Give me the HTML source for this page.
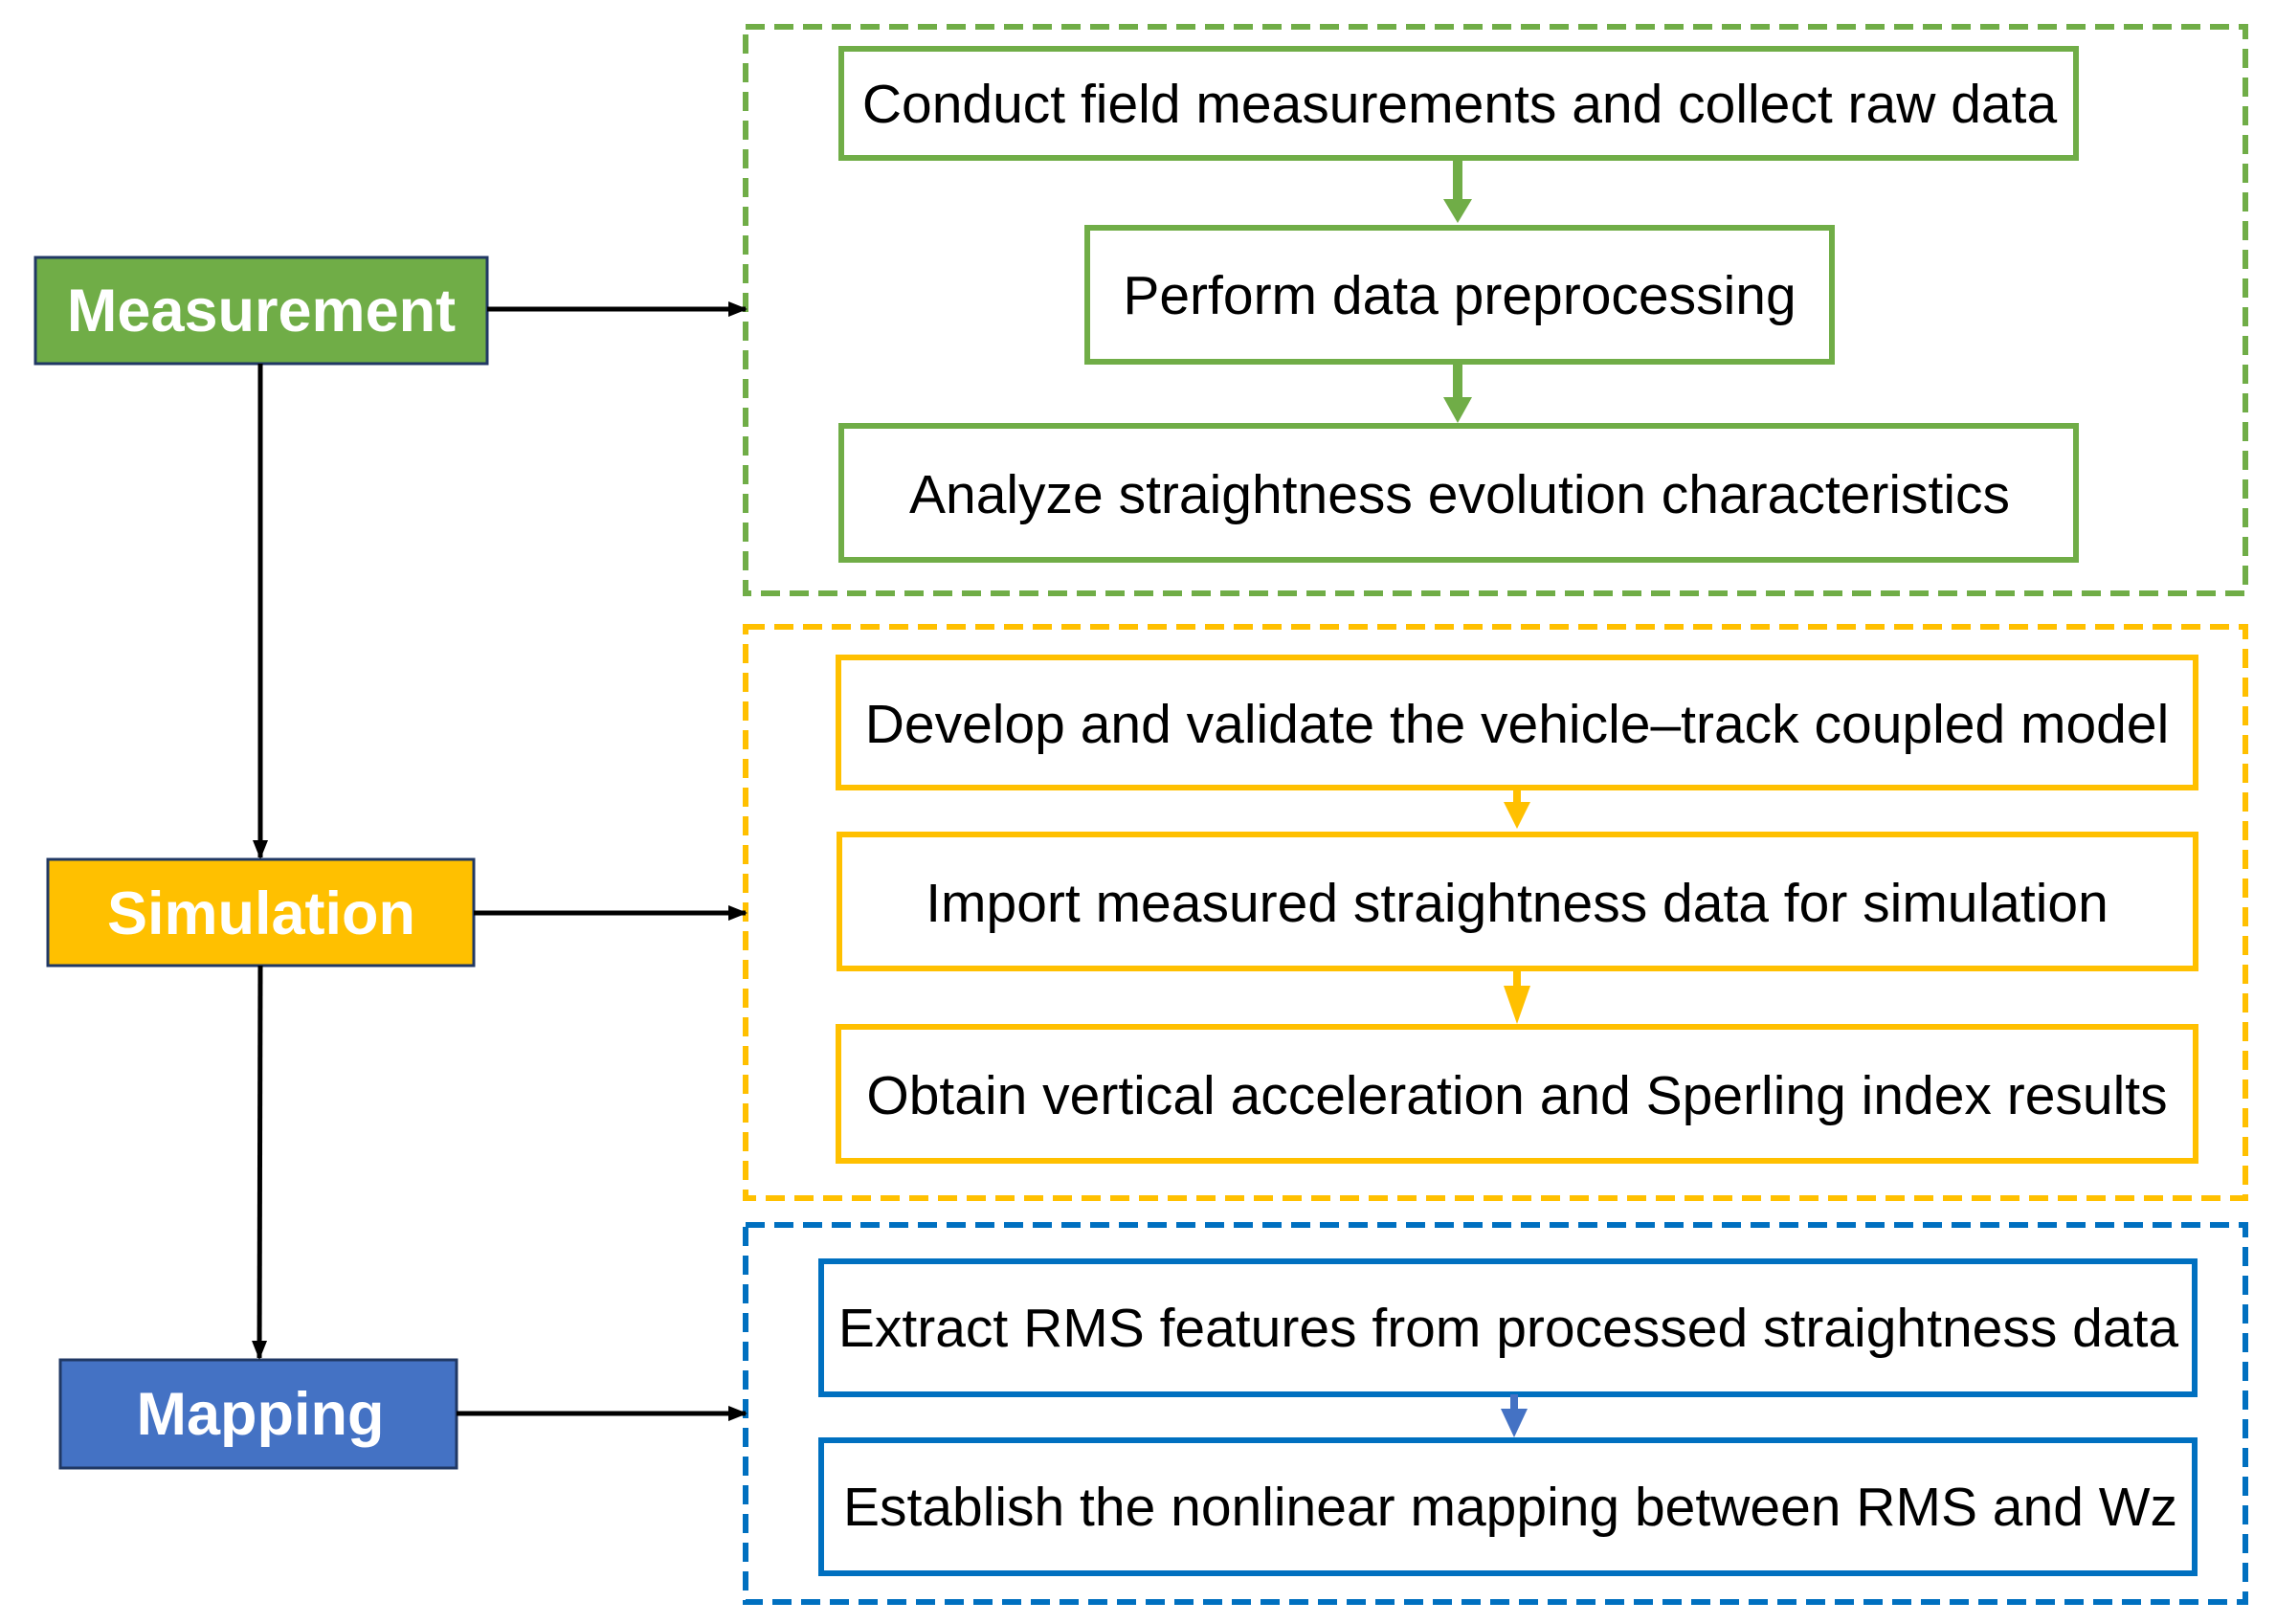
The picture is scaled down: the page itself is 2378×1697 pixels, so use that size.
<!DOCTYPE html>
<html><head><meta charset="utf-8"><style>
html,body{margin:0;padding:0;background:#fff;}
svg{display:block;}
text{font-family:"Liberation Sans",Arial,sans-serif;}
</style></head><body>
<svg width="2378" height="1697" viewBox="0 0 2378 1697" xmlns="http://www.w3.org/2000/svg">
<defs>
<marker id="ab" markerWidth="20" markerHeight="20" refX="18" refY="10" orient="auto" markerUnits="userSpaceOnUse" viewBox="0 0 20 20"><path d="M0,2 L20,10 L0,18 z" fill="#000"/></marker>
</defs>
<!-- dashed containers -->
<rect x="779" y="28" width="1567" height="592" fill="none" stroke="#70AD47" stroke-width="6" stroke-dasharray="20,10"/>
<rect x="779" y="655" width="1567" height="597" fill="none" stroke="#FFC000" stroke-width="6" stroke-dasharray="20,10"/>
<rect x="779" y="1280" width="1567" height="394" fill="none" stroke="#0070C0" stroke-width="6" stroke-dasharray="20,10"/>

<!-- left boxes -->
<rect x="37" y="269" width="472" height="111" fill="#70AD47" stroke="#203864" stroke-width="3"/>
<text x="273" y="346" font-size="63" font-weight="bold" fill="#fff" text-anchor="middle">Measurement</text>
<rect x="50" y="898" width="445" height="111" fill="#FFC000" stroke="#203864" stroke-width="3"/>
<text x="273" y="976" font-size="63" font-weight="bold" fill="#fff" text-anchor="middle">Simulation</text>
<rect x="63" y="1421" width="414" height="113" fill="#4472C4" stroke="#203864" stroke-width="3"/>
<text x="272" y="1499" font-size="63" font-weight="bold" fill="#fff" text-anchor="middle">Mapping</text>

<!-- black connectors -->
<g stroke="#000" stroke-width="5" fill="none">
<line x1="272" y1="380" x2="272" y2="896" marker-end="url(#ab)"/>
<line x1="272" y1="1009" x2="271" y2="1419" marker-end="url(#ab)"/>
<line x1="509" y1="323" x2="779" y2="323" marker-end="url(#ab)"/>
<line x1="495" y1="954" x2="779" y2="954" marker-end="url(#ab)"/>
<line x1="477" y1="1477" x2="779" y2="1477" marker-end="url(#ab)"/>
</g>

<!-- green inner -->
<g fill="#fff" stroke="#70AD47" stroke-width="6">
<rect x="879" y="51" width="1290" height="114"/>
<rect x="1136" y="238" width="778" height="140"/>
<rect x="879" y="445" width="1290" height="140"/>
</g>
<g fill="#70AD47">
<rect x="1518" y="165" width="10" height="48"/><path d="M1508,208 L1538,208 L1523,233 z"/>
<rect x="1518" y="378" width="10" height="42"/><path d="M1508,415 L1538,415 L1523,442 z"/>
</g>
<g font-size="57" fill="#000" text-anchor="middle">
<text x="1525" y="128">Conduct field measurements and collect raw data</text>
<text x="1525" y="328">Perform data preprocessing</text>
<text x="1525" y="536">Analyze straightness evolution characteristics</text>
</g>

<!-- yellow inner -->
<g fill="#fff" stroke="#FFC000" stroke-width="6">
<rect x="876" y="687" width="1418" height="136"/>
<rect x="877" y="872" width="1417" height="140"/>
<rect x="876" y="1073" width="1418" height="140"/>
</g>
<g fill="#FFC000">
<rect x="1581" y="823" width="8" height="20"/><path d="M1571,838 L1599,838 L1585,866 z"/>
<rect x="1581" y="1012" width="8" height="22"/><path d="M1571,1030 L1599,1030 L1585,1070 z"/>
</g>
<g font-size="57" fill="#000" text-anchor="middle">
<text x="1585" y="776">Develop and validate the vehicle–track coupled model</text>
<text x="1585" y="963">Import measured straightness data for simulation</text>
<text x="1585" y="1164">Obtain vertical acceleration and Sperling index results</text>
</g>

<!-- blue inner -->
<g fill="#fff" stroke="#0070C0" stroke-width="6">
<rect x="858" y="1318" width="1435" height="139"/>
<rect x="858" y="1505" width="1435" height="139"/>
</g>
<g fill="#4472C4">
<rect x="1578" y="1457" width="8" height="20"/><path d="M1568,1472 L1596,1472 L1582,1502 z"/>
</g>
<g font-size="57" fill="#000" text-anchor="middle">
<text x="1576" y="1407">Extract RMS features from processed straightness data</text>
<text x="1578" y="1594">Establish the nonlinear mapping between RMS and Wz</text>
</g>
</svg>
</body></html>
